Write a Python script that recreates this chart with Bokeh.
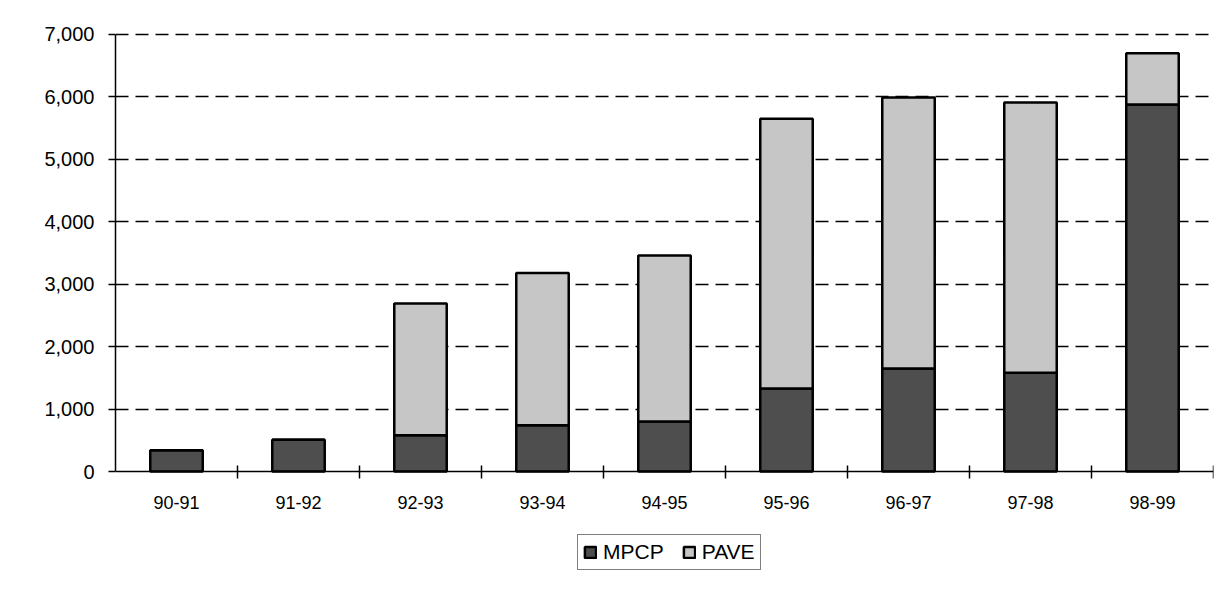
from bokeh.plotting import figure
from bokeh.models import (FixedTicker, Legend, LegendItem, ColumnDataSource,
                          Range1d, NumeralTickFormatter)
from bokeh.embed import file_html
from bokeh.resources import INLINE

categories = ["90-91", "91-92", "92-93", "93-94", "94-95",
              "95-96", "96-97", "97-98", "98-99"]
mpcp = [340, 510, 580, 740, 800, 1330, 1650, 1580, 5880]
pave = [0, 0, 2110, 2440, 2660, 4320, 4340, 4330, 820]
y_ticks = [0, 1000, 2000, 3000, 4000, 5000, 6000, 7000]
series = ["MPCP", "PAVE"]
colors = ["#4e4e4e", "#c6c6c6"]

x = [i + 0.5 for i in range(len(categories))]
bounds = [i for i in range(1, len(categories) + 1)]
src = ColumnDataSource(dict(x=x, MPCP=mpcp, PAVE=pave))

FONT = "Liberation Sans"

# frame spans the full height below the top border; the value axis is
# fixed at 0 so the legend can sit inside the frame below the category axis
p = figure(width=1220, height=600, x_range=Range1d(0, len(categories)),
           y_range=Range1d(-2066, 7096), output_backend="svg",
           toolbar_location=None, min_border_left=115, min_border_right=7,
           min_border_top=28, min_border_bottom=0)
p.outline_line_color = None

rs = p.vbar_stack(series, x="x", width=0.43, color=colors,
                  line_color="black", line_width=2.5, source=src)

# y axis
p.yaxis.ticker = FixedTicker(ticks=y_ticks)
p.yaxis.bounds = (0, 7000)
p.yaxis.formatter = NumeralTickFormatter(format="0,0")
p.yaxis.major_tick_in = 0
p.yaxis.major_tick_out = 7
p.yaxis.minor_tick_line_color = None
p.yaxis.axis_line_width = 1.5
p.yaxis.major_tick_line_width = 1.5
p.yaxis.major_label_text_font = FONT
p.yaxis.major_label_text_font_size = "20px"
p.yaxis.major_label_text_color = "black"
p.yaxis.major_label_standoff = 14

# x axis
p.xaxis.fixed_location = 0
p.xaxis.ticker = FixedTicker(ticks=x, minor_ticks=bounds)
p.xaxis.major_label_overrides = {xi: c for xi, c in zip(x, categories)}
p.xaxis.major_tick_in = 0
p.xaxis.major_tick_out = 0
p.xaxis.minor_tick_in = 6
p.xaxis.minor_tick_out = 7
p.xaxis.minor_tick_line_width = 1.5
p.xaxis.minor_tick_line_color = "black"
p.xaxis.axis_line_width = 1.5
p.xaxis.major_label_text_font = FONT
p.xaxis.major_label_text_font_size = "18px"
p.xaxis.major_label_text_color = "black"
p.xaxis.major_label_standoff = 17

# grid
p.xgrid.grid_line_color = None
p.ygrid.ticker = FixedTicker(ticks=y_ticks[1:])
p.ygrid.grid_line_color = "black"
p.ygrid.grid_line_dash = "13 7"
p.ygrid.grid_line_width = 1.5

legend = Legend(items=[LegendItem(label=s, renderers=[r]) for s, r in zip(series, rs)],
                orientation="horizontal", location=(462, 30),
                border_line_color="black", border_line_width=1.5,
                background_fill_alpha=1.0,
                label_text_font=FONT, label_text_font_size="21px",
                label_text_color="black",
                glyph_width=14, glyph_height=14, spacing=18, padding=5,
                margin=0, label_standoff=6)
p.add_layout(legend, "center")

open("out.html", "w").write(file_html(p, INLINE))
